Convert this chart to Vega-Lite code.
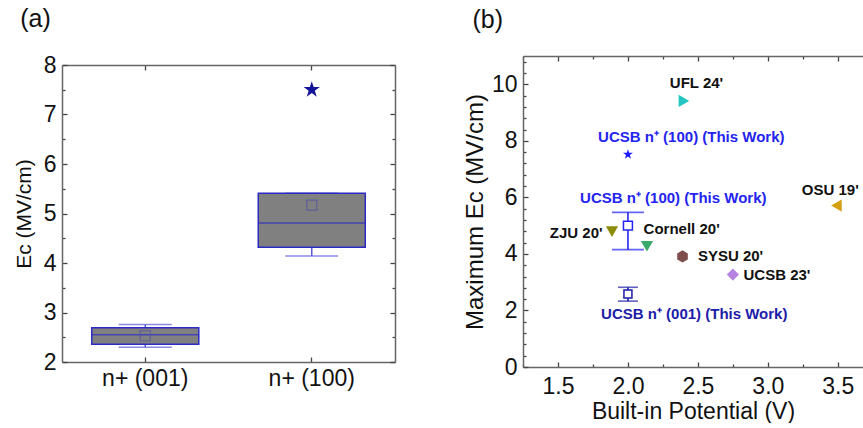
{
  "$schema": "https://vega.github.io/schema/vega-lite/v6.json",
  "padding": {"left": 13, "top": 7, "right": 0, "bottom": 0},
  "spacing": 67,
  "config": {
    "font": "Liberation Sans",
    "view": {"stroke": null},
    "axis": {"domainColor": "#666666", "domainWidth": 1.5, "tickColor": "#444444", "tickWidth": 1.3, "labelColor": "#111111", "titleColor": "#111111", "labelFont": "Liberation Sans", "titleFont": "Liberation Sans", "titleFontWeight": "normal", "grid": false, "labelFontSize": 23, "titleFontSize": 23},
    "title": {"font": "Liberation Sans", "fontSize": 25, "fontWeight": "normal", "anchor": "start", "color": "#111111"}
  },
  "datasets": {
    "boxes": [
      {"group": "n+ (001)", "q1": 2.36, "q3": 2.69, "median": 2.55, "mean": 2.53, "wlo": 2.30, "whi": 2.76},
      {"group": "n+ (100)", "q1": 4.32, "q3": 5.41, "median": 4.81, "mean": 5.17, "wlo": 4.14, "whi": 5.41}
    ],
    "outliers": [{"group": "n+ (100)", "value": 7.5}],
    "points": [
      {"name": "UFL 24'", "x": 2.40, "y": 9.41},
      {"name": "ZJU 20'", "x": 1.886, "y": 4.79},
      {"name": "Cornell 20'", "x": 2.136, "y": 4.27},
      {"name": "SYSU 20'", "x": 2.39, "y": 3.91},
      {"name": "UCSB 23'", "x": 2.75, "y": 3.27},
      {"name": "OSU 19'", "x": 3.49, "y": 5.71}
    ],
    "star": [{"x": 2.0, "y": 7.52}],
    "err100": [{"x": 2.0, "mean": 5.0, "lo": 4.15, "hi": 5.47}],
    "err001": [{"x": 2.0, "mean": 2.58, "lo": 2.33, "hi": 2.82}],
    "labelsCenter": [
      {"text": "UFL 24'", "x": 2.49, "y": 10.05, "who": "other"},
      {"text": "UCSB n⁺ (100) (This Work)", "x": 2.453, "y": 8.14, "who": "this100"},
      {"text": "UCSB n⁺ (100) (This Work)", "x": 2.324, "y": 5.97, "who": "this100"},
      {"text": "UCSB n⁺ (001) (This Work)", "x": 2.474, "y": 1.88, "who": "this001"}
    ],
    "labelsLeft": [
      {"text": "Cornell 20'", "x": 2.112, "y": 4.89},
      {"text": "SYSU 20'", "x": 2.5, "y": 3.91},
      {"text": "UCSB 23'", "x": 2.826, "y": 3.27},
      {"text": "OSU 19'", "x": 3.243, "y": 6.27}
    ],
    "labelsRight": [
      {"text": "ZJU 20'", "x": 1.819, "y": 4.73}
    ]
  },
  "hconcat": [
    {
      "width": 333,
      "height": 306,
      "title": {"text": "(a)", "offset": 22, "dx": 7, "frame": "bounds"},
      "resolve": {"axis": {"x": "independent", "y": "independent"}},
      "layer": [
        {
          "data": {"name": "boxes"},
          "mark": {"type": "rule", "color": "#5a5ad8", "strokeWidth": 1.5},
          "encoding": {
            "x": {"field": "group", "type": "nominal", "sort": null, "scale": {"type": "band", "paddingInner": 0.357, "paddingOuter": 0.1785},
              "axis": {"orient": "bottom", "title": null, "labelAngle": 0, "tickSize": -5, "labelPadding": 10}},
            "y": {"field": "wlo", "type": "quantitative", "scale": {"domain": [2, 8], "range": [306, 9], "nice": false, "zero": false},
              "axis": {"orient": "left", "title": "Eᴄ (MV/cm)", "titleFontSize": 21, "titlePadding": 9, "values": [2, 2.5, 3, 3.5, 4, 4.5, 5, 5.5, 6, 6.5, 7, 7.5, 8],
                "labelExpr": "datum.value % 1 ? '' : format(datum.value, 'd')",
                "tickSize": {"condition": {"test": "datum.value % 1 != 0", "value": -3}, "value": -5}, "labelPadding": 11}},
            "y2": {"field": "whi"}
          }
        },
        {
          "data": {"name": "boxes"},
          "mark": {"type": "tick", "color": "#5a5ad8", "thickness": 1.5, "size": 53},
          "encoding": {
            "x": {"field": "group", "type": "nominal", "sort": null, "axis": {"orient": "top", "title": null, "labels": false, "tickSize": -5, "offset": -9}},
            "y": {"field": "wlo", "type": "quantitative", "axis": {"orient": "right", "title": null, "labels": false, "values": [2, 2.5, 3, 3.5, 4, 4.5, 5, 5.5, 6, 6.5, 7, 7.5, 8],
                "tickSize": {"condition": {"test": "datum.value % 1 != 0", "value": -3}, "value": -5}}}
          }
        },
        {
          "data": {"name": "boxes"},
          "mark": {"type": "tick", "color": "#5a5ad8", "thickness": 1.5, "size": 53},
          "encoding": {
            "x": {"field": "group", "type": "nominal", "sort": null, "axis": null},
            "y": {"field": "whi", "type": "quantitative", "axis": null}
          }
        },
        {
          "data": {"name": "boxes"},
          "mark": {"type": "bar", "fill": "#808080", "stroke": "#2b2bc4", "strokeWidth": 1.5},
          "encoding": {
            "x": {"field": "group", "type": "nominal", "sort": null, "axis": null},
            "y": {"field": "q1", "type": "quantitative", "axis": null},
            "y2": {"field": "q3"}
          }
        },
        {
          "data": {"name": "boxes"},
          "mark": {"type": "tick", "color": "#2b2bc4", "thickness": 1.5, "size": 107},
          "encoding": {
            "x": {"field": "group", "type": "nominal", "sort": null, "axis": null},
            "y": {"field": "median", "type": "quantitative", "axis": null}
          }
        },
        {
          "data": {"name": "boxes"},
          "mark": {"type": "point", "shape": "square", "filled": false, "size": 100, "color": "#5050a8", "strokeWidth": 1.2},
          "encoding": {
            "x": {"field": "group", "type": "nominal", "sort": null, "axis": null},
            "y": {"field": "mean", "type": "quantitative", "axis": null}
          }
        },
        {
          "data": {"name": "outliers"},
          "mark": {"type": "point", "shape": "M0,-1L0.2245,-0.309L0.951,-0.309L0.363,0.118L0.588,0.809L0,0.382L-0.588,0.809L-0.363,0.118L-0.951,-0.309L-0.2245,-0.309Z", "filled": true, "size": 290, "color": "#14149a", "opacity": 1},
          "encoding": {
            "x": {"field": "group", "type": "nominal", "sort": null, "axis": null},
            "y": {"field": "value", "type": "quantitative", "axis": null}
          }
        }
      ]
    },
    {
      "width": 340,
      "height": 311,
      "title": {"text": "(b)", "offset": 22, "dx": 9, "frame": "bounds"},
      "resolve": {"axis": {"x": "independent", "y": "independent"}, "scale": {"color": "independent", "shape": "independent"}},
      "layer": [
        {
          "data": {"name": "err100"},
          "mark": {"type": "rule", "color": "#2424f0", "strokeWidth": 1.6},
          "encoding": {
            "x": {"field": "x", "type": "quantitative", "scale": {"domain": [1.25, 3.68], "nice": false, "zero": false},
              "axis": {"orient": "bottom", "title": "Built-in Potential (V)", "titlePadding": 2,
                "values": [1.25, 1.5, 1.75, 2, 2.25, 2.5, 2.75, 3, 3.25, 3.5],
                "labelExpr": "datum.value % 0.5 ? '' : format(datum.value, '.1f')",
                "tickSize": {"condition": {"test": "datum.value % 0.5 != 0", "value": -3}, "value": -5}, "labelPadding": 13}},
            "y": {"field": "lo", "type": "quantitative", "scale": {"domain": [0, 11], "nice": false, "zero": true},
              "axis": {"orient": "left", "title": "Maximum Eᴄ (MV/cm)", "titleFontSize": 24, "titlePadding": 4,
                "values": [0, 0.4, 0.8, 1.2, 1.6, 2, 2.4, 2.8, 3.2, 3.6, 4, 4.4, 4.8, 5.2, 5.6, 6, 6.4, 6.8, 7.2, 7.6, 8, 8.4, 8.8, 9.2, 9.6, 10, 10.4, 10.8],
                "labelExpr": "datum.value % 2 ? '' : format(datum.value, 'd')",
                "tickSize": {"condition": {"test": "datum.value % 2 != 0", "value": -3}, "value": -5}, "labelPadding": 11}},
            "y2": {"field": "hi"}
          }
        },
        {
          "data": {"name": "err100"},
          "mark": {"type": "tick", "orient": "horizontal", "color": "#2424f0", "thickness": 1.6, "size": 32},
          "encoding": {
            "x": {"field": "x", "type": "quantitative", "axis": {"orient": "top", "title": null, "labels": false,
                "values": [1.25, 1.5, 1.75, 2, 2.25, 2.5, 2.75, 3, 3.25, 3.5],
                "tickSize": {"condition": {"test": "datum.value % 0.5 != 0", "value": -3}, "value": -5}}},
            "y": {"field": "lo", "type": "quantitative", "axis": null}
          }
        },
        {
          "data": {"name": "err100"},
          "mark": {"type": "tick", "orient": "horizontal", "color": "#2424f0", "thickness": 1.6, "size": 32},
          "encoding": {
            "x": {"field": "x", "type": "quantitative", "axis": null},
            "y": {"field": "hi", "type": "quantitative", "axis": null}
          }
        },
        {
          "data": {"name": "err100"},
          "mark": {"type": "point", "shape": "square", "filled": true, "fill": "white", "stroke": "#2424f0", "strokeWidth": 1.5, "size": 80, "opacity": 1},
          "encoding": {
            "x": {"field": "x", "type": "quantitative", "axis": null},
            "y": {"field": "mean", "type": "quantitative", "axis": null}
          }
        },
        {
          "data": {"name": "err001"},
          "mark": {"type": "rule", "color": "#1c1ca8", "strokeWidth": 1.6},
          "encoding": {
            "x": {"field": "x", "type": "quantitative", "axis": null},
            "y": {"field": "lo", "type": "quantitative", "axis": null},
            "y2": {"field": "hi"}
          }
        },
        {
          "data": {"name": "err001"},
          "mark": {"type": "tick", "orient": "horizontal", "color": "#1c1ca8", "thickness": 1.6, "size": 20},
          "encoding": {
            "x": {"field": "x", "type": "quantitative", "axis": null},
            "y": {"field": "lo", "type": "quantitative", "axis": null}
          }
        },
        {
          "data": {"name": "err001"},
          "mark": {"type": "tick", "orient": "horizontal", "color": "#1c1ca8", "thickness": 1.6, "size": 20},
          "encoding": {
            "x": {"field": "x", "type": "quantitative", "axis": null},
            "y": {"field": "hi", "type": "quantitative", "axis": null}
          }
        },
        {
          "data": {"name": "err001"},
          "mark": {"type": "point", "shape": "square", "filled": true, "fill": "white", "stroke": "#1c1ca8", "strokeWidth": 1.5, "size": 64, "opacity": 1},
          "encoding": {
            "x": {"field": "x", "type": "quantitative", "axis": null},
            "y": {"field": "mean", "type": "quantitative", "axis": null}
          }
        },
        {
          "data": {"name": "star"},
          "mark": {"type": "point", "shape": "M0,-1L0.2245,-0.309L0.951,-0.309L0.363,0.118L0.588,0.809L0,0.382L-0.588,0.809L-0.363,0.118L-0.951,-0.309L-0.2245,-0.309Z", "filled": true, "size": 110, "color": "#1a1aff", "opacity": 1},
          "encoding": {
            "x": {"field": "x", "type": "quantitative", "axis": null},
            "y": {"field": "y", "type": "quantitative", "axis": null}
          }
        },
        {
          "data": {"name": "points"},
          "mark": {"type": "point", "filled": true, "size": 150, "opacity": 1},
          "encoding": {
            "x": {"field": "x", "type": "quantitative", "axis": null},
            "y": {"field": "y", "type": "quantitative", "axis": null},
            "shape": {"field": "name", "type": "nominal", "legend": null,
              "scale": {"domain": ["UFL 24'", "ZJU 20'", "Cornell 20'", "SYSU 20'", "UCSB 23'", "OSU 19'"],
                "range": ["triangle-right", "triangle-down", "triangle-down", "M0,-1L0.866,-0.5L0.866,0.5L0,1L-0.866,0.5L-0.866,-0.5Z", "diamond", "triangle-left"]}},
            "color": {"field": "name", "type": "nominal", "legend": null,
              "scale": {"domain": ["UFL 24'", "ZJU 20'", "Cornell 20'", "SYSU 20'", "UCSB 23'", "OSU 19'"],
                "range": ["#22c4c4", "#8c8c0a", "#3aaa6a", "#7e4e4c", "#b683e0", "#d59f12"]}}
          }
        },
        {
          "data": {"name": "labelsCenter"},
          "mark": {"type": "text", "align": "center", "baseline": "middle", "fontWeight": "bold", "fontSize": 15, "clip": true},
          "encoding": {
            "x": {"field": "x", "type": "quantitative", "axis": null},
            "y": {"field": "y", "type": "quantitative", "axis": null},
            "text": {"field": "text"},
            "color": {"field": "who", "type": "nominal", "legend": null,
              "scale": {"domain": ["other", "this100", "this001"], "range": ["#111111", "#2424f0", "#1c1ca8"]}}
          }
        },
        {
          "data": {"name": "labelsLeft"},
          "mark": {"type": "text", "align": "left", "baseline": "middle", "fontWeight": "bold", "fontSize": 15, "color": "#111111", "clip": true},
          "encoding": {
            "x": {"field": "x", "type": "quantitative", "axis": null},
            "y": {"field": "y", "type": "quantitative", "axis": null},
            "text": {"field": "text"}
          }
        },
        {
          "data": {"name": "labelsRight"},
          "mark": {"type": "text", "align": "right", "baseline": "middle", "fontWeight": "bold", "fontSize": 15, "color": "#111111", "clip": true},
          "encoding": {
            "x": {"field": "x", "type": "quantitative", "axis": null},
            "y": {"field": "y", "type": "quantitative", "axis": null},
            "text": {"field": "text"}
          }
        }
      ]
    }
  ]
}
